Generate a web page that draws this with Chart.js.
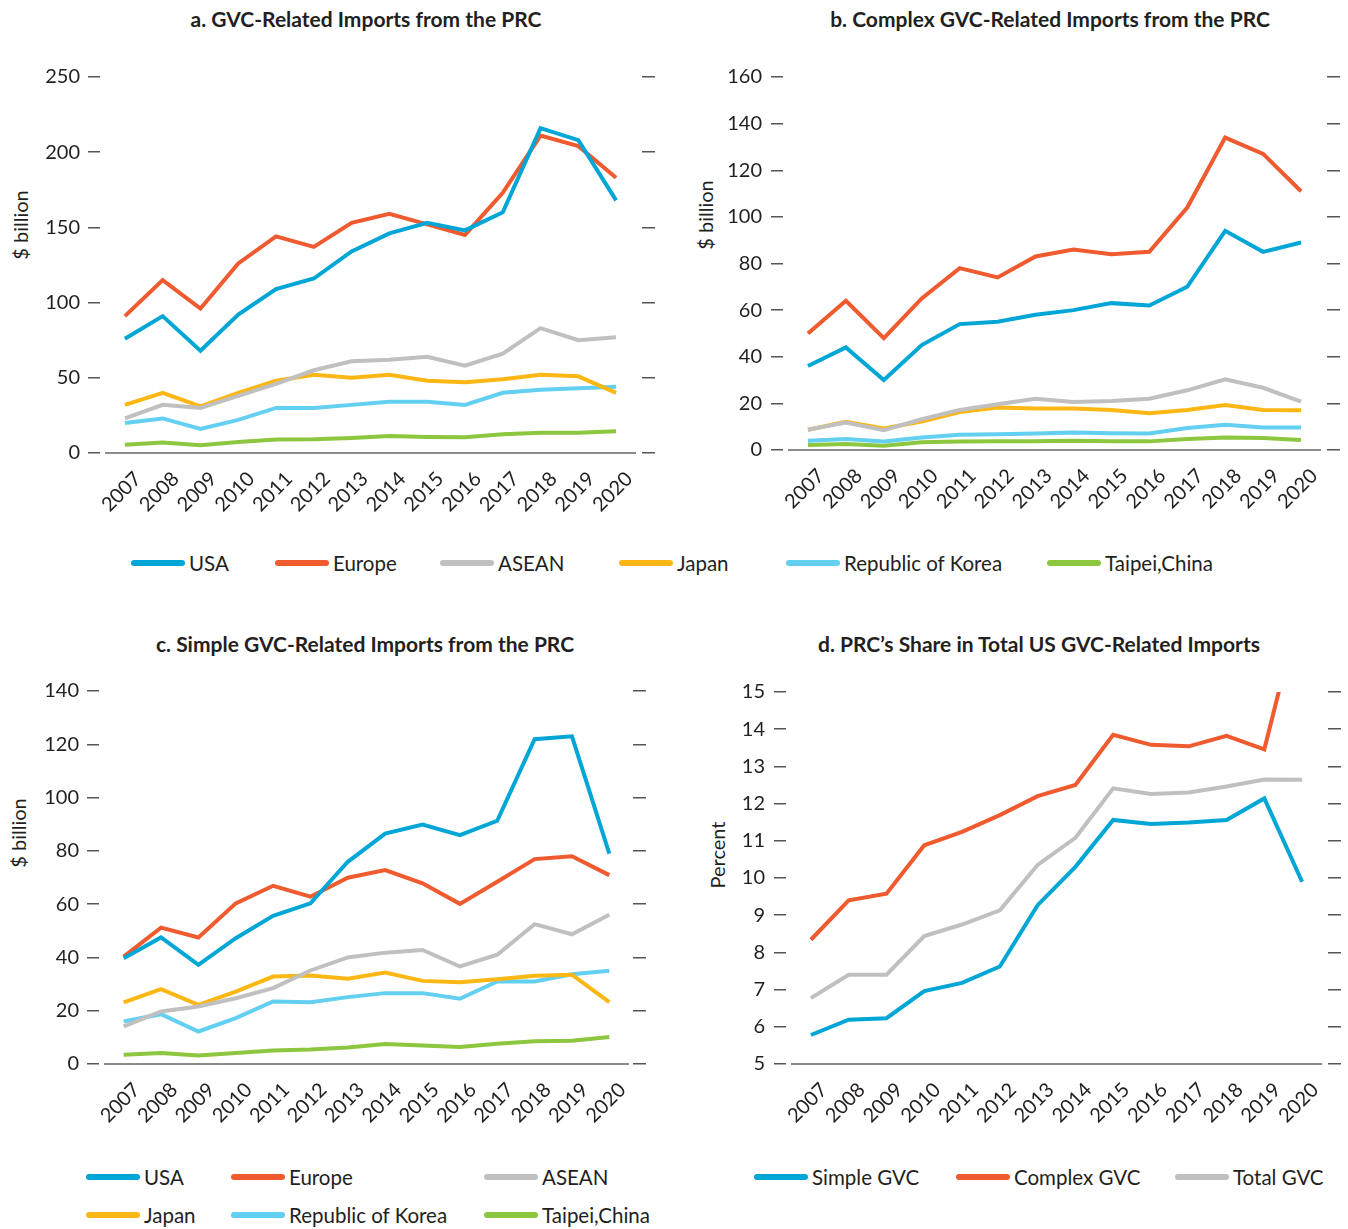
<!DOCTYPE html>
<html>
<head>
<meta charset="utf-8">
<script src="https://cdn.jsdelivr.net/npm/chart.js@4.4.0/dist/chart.umd.min.js"></script>
<style>
  body { margin: 0; background: #fff; font-family: Lato, 'Open Sans', sans-serif; color: #231F20; }
  #page { position: relative; width: 1348px; height: 1229px; overflow: hidden; }
  .panel { position: absolute; }
  .title { position: absolute; font-weight: bold; font-size: 21px; white-space: nowrap; transform: translateX(-50%); }
  .ytitle { position: absolute; font-size: 20px; white-space: nowrap; transform: translate(-50%, -50%) rotate(-90deg); }
  .leg { position: absolute; display: flex; align-items: center; font-size: 20.5px; white-space: nowrap; transform: translateY(-50%); }
  .leg .sw { width: 54px; height: 6px; border-radius: 3px; margin-right: 4px; }
</style>
</head>
<body>
<div id="page">
  <div class="title" style="left:366px;top:6px">a. GVC-Related Imports from the PRC</div>
  <div class="title" style="left:1050px;top:6px">b. Complex GVC-Related Imports from the PRC</div>
  <div class="title" style="left:365px;top:631px">c. Simple GVC-Related Imports from the PRC</div>
  <div class="title" style="left:1039px;top:631px">d. PRC’s Share in Total US GVC-Related Imports</div>
  <div class="ytitle" style="left:20px;top:225px">$ billion</div>
  <div class="ytitle" style="left:705px;top:215px">$ billion</div>
  <div class="ytitle" style="left:18px;top:833px">$ billion</div>
  <div class="ytitle" style="left:717px;top:855px">Percent</div>
  <canvas id="chartA" class="panel" width="674" height="510" style="left:0;top:40px"></canvas>
  <canvas id="chartB" class="panel" width="674" height="510" style="left:674px;top:40px"></canvas>
  <canvas id="chartC" class="panel" width="674" height="480" style="left:0;top:660px"></canvas>
  <canvas id="chartD" class="panel" width="674" height="480" style="left:674px;top:660px"></canvas>
  <div id="legends"></div>
</div>
<script>
const years = ['2007', '2008', '2009', '2010', '2011', '2012', '2013', '2014', '2015', '2016', '2017', '2018', '2019', '2020'];
const economies = ['USA', 'Europe', 'ASEAN', 'Japan', 'Republic of Korea', 'Taipei,China'];
const gvcTypes = ['Simple GVC', 'Complex GVC', 'Total GVC'];

// a. GVC-related imports from the PRC ($ billion)
const usaTotal = [76, 91, 68, 92, 109, 116, 134, 146, 153, 148, 160, 216, 208, 168];
const europeTotal = [91, 115, 96, 126, 144, 137, 153, 159, 152, 145, 173, 211, 204, 183];
const aseanTotal = [23, 32, 30, 38, 46, 55, 61, 62, 64, 58, 66, 83, 75, 77];
const japanTotal = [32, 40, 31, 40, 48, 52, 50, 52, 48, 47, 49, 52, 51, 40];
const koreaTotal = [20, 23, 16, 22, 30, 30, 32, 34, 34, 32, 40, 42, 43, 44];
const taipeiTotal = [5.5, 6.9, 5.1, 7.3, 8.9, 9.1, 10, 11.3, 10.7, 10.4, 12.4, 13.5, 13.5, 14.4];

// b. complex GVC-related imports
const usaComplex = [36, 44, 30, 45, 54, 55, 58, 60, 63, 62, 70, 94, 85, 89];
const europeComplex = [50, 64, 48, 65, 78, 74, 83, 86, 84, 85, 104, 134, 127, 111];
const aseanComplex = [8.7, 11.8, 8.5, 13.2, 17.2, 19.6, 22, 20.6, 21, 22, 25.6, 30.3, 26.7, 20.7];
const japanComplex = [8.7, 12.1, 9.2, 12.2, 16.3, 18.2, 17.8, 17.8, 17.2, 15.8, 17.2, 19.3, 17.2, 17];
const koreaComplex = [4, 4.7, 3.6, 5.4, 6.5, 6.8, 7.1, 7.5, 7.2, 7.1, 9.4, 10.8, 9.7, 9.7];
const taipeiComplex = [2.1, 2.6, 1.8, 3.3, 3.6, 3.7, 3.7, 4, 3.7, 3.7, 4.7, 5.4, 5.1, 4.3];

// c. simple GVC-related imports
const usaSimple = [39.7, 47.5, 37.2, 47.2, 55.6, 60.3, 75.9, 86.5, 89.9, 85.9, 91.3, 121.9, 123, 79];
const europeSimple = [40.3, 51.2, 47.5, 60.3, 66.9, 62.8, 69.9, 72.8, 67.8, 60.1, 68.4, 76.9, 78, 70.9];
const aseanSimple = [14.1, 19.7, 21.6, 24.7, 28.5, 35.1, 40, 41.8, 42.8, 36.6, 41, 52.5, 48.7, 56];
const japanSimple = [23.1, 28.1, 22.2, 27.2, 32.8, 33.2, 32, 34.3, 31.2, 30.7, 31.8, 33.1, 33.5, 23.2];
const koreaSimple = [16, 18.7, 12.2, 17.2, 23.5, 23.2, 25.1, 26.6, 26.6, 24.5, 31, 31, 33.7, 35];
const taipeiSimple = [3.5, 4.1, 3.2, 4.1, 5.1, 5.4, 6.2, 7.5, 6.9, 6.4, 7.6, 8.5, 8.7, 10.1];

// d. PRC share in total US GVC-related imports (percent)
const simpleShare = [5.78, 6.19, 6.23, 6.96, 7.18, 7.62, 9.27, 10.3, 11.56, 11.45, 11.49, 11.56, 12.14, 9.9];
const complexShare = [8.34, 9.4, 9.58, 10.88, 11.24, 11.69, 12.2, 12.5, 13.85, 13.58, 13.54, 13.82, 13.46, 17.5];
const totalShare = [6.77, 7.4, 7.4, 8.44, 8.75, 9.13, 10.35, 11.08, 12.41, 12.26, 12.3, 12.46, 12.65, 12.64];

const economyColors = ['#00A6D6', '#EF5A2F', '#C0C0C0', '#FDB714', '#63CFF1', '#8DC63F'];
const gvcColors = ['#00A6D6', '#EF5A2F', '#C0C0C0'];

document.addEventListener('DOMContentLoaded', function() {
    Chart.defaults.font.family = 'Lato, "Open Sans", sans-serif';
    Chart.defaults.color = '#231F20';
    drawPanel('chartA', economies, [usaTotal, europeTotal, aseanTotal, japanTotal, koreaTotal, taipeiTotal], economyColors,
        { min: 0, max: 250, step: 50, yWidth: 106, labelPad: 8, xHeight: 97, top: 37, right: 19, rightGap: 7 });
    drawPanel('chartB', economies, [usaComplex, europeComplex, aseanComplex, japanComplex, koreaComplex, taipeiComplex], economyColors,
        { min: 0, max: 160, step: 20, yWidth: 115, labelPad: 9, xHeight: 100, top: 37, right: 8, rightGap: 7 });
    drawPanel('chartC', economies, [usaSimple, europeSimple, aseanSimple, japanSimple, koreaSimple, taipeiSimple], economyColors,
        { min: 0, max: 140, step: 20, yWidth: 105, labelPad: 8, xHeight: 76, top: 31, right: 26, rightGap: 5 });
    drawPanel('chartD', gvcTypes, [simpleShare, complexShare, totalShare], gvcColors,
        { min: 5, max: 15, step: 1, yWidth: 118, labelPad: 9, xHeight: 76, top: 32, right: 7, rightGap: 7 });

    // legend swatch positions [left, middle] in px
    addLegend(economies, economyColors, [[131, 563], [275, 563], [440, 563], [619, 563], [786, 563], [1047, 563]]);
    addLegend(economies, economyColors, [[86, 1177], [231, 1177], [484, 1177], [86, 1215], [231, 1215], [484, 1215]]);
    addLegend(gvcTypes, gvcColors, [[754, 1177], [956, 1177], [1175, 1177]]);
});

function drawPanel(id, names, series, colors, o) {
    const ctx = document.getElementById(id);
    new Chart(ctx, {
        type: 'line',
        data: {
            labels: years,
            datasets: names.map((n, i) => ({
                label: n,
                data: series[i],
                borderColor: colors[i],
                backgroundColor: colors[i],
                borderWidth: 4,
                pointRadius: 0,
                tension: 0,
                fill: false
            }))
        },
        options: {
            responsive: false,
            animation: false,
            layout: { padding: { top: o.top, right: o.right, bottom: 0, left: 0 } },
            plugins: { legend: { display: false }, tooltip: { enabled: false } },
            scales: {
                x: {
                    offset: true,
                    grid: { display: false, drawTicks: false },
                    border: { display: true, color: '#8C8C8C', width: 2 },
                    ticks: { font: { size: 20 }, maxRotation: 45, minRotation: 45, padding: 14, labelOffset: 13, autoSkip: false },
                    afterFit: s => { s.height = o.xHeight; }
                },
                y: {
                    min: o.min, max: o.max,
                    border: { display: false },
                    grid: { drawOnChartArea: false, tickLength: 18, tickBorderDash: [12, 30], tickColor: '#555', lineWidth: 1.5 },
                    ticks: { stepSize: o.step, font: { size: 20 }, padding: o.labelPad },
                    afterFit: s => { s.width = o.yWidth; }
                },
                y2: {
                    position: 'right',
                    min: o.min, max: o.max,
                    border: { display: false },
                    grid: { drawOnChartArea: false, tickLength: 20, tickBorderDash: [0, o.rightGap, 13, 30], tickColor: '#555', lineWidth: 1.5 },
                    ticks: { stepSize: o.step, display: false },
                    afterFit: s => { s.width = 20; }
                }
            }
        }
    });
}

function addLegend(names, colors, spots) {
    const box = document.getElementById('legends');
    names.forEach((n, i) => {
        box.innerHTML += `<div class="leg" style="left:${spots[i][0]}px;top:${spots[i][1]}px">
            <div class="sw" style="background:${colors[i]}"></div><span>${n}</span></div>`;
    });
}
</script>
</body>
</html>
